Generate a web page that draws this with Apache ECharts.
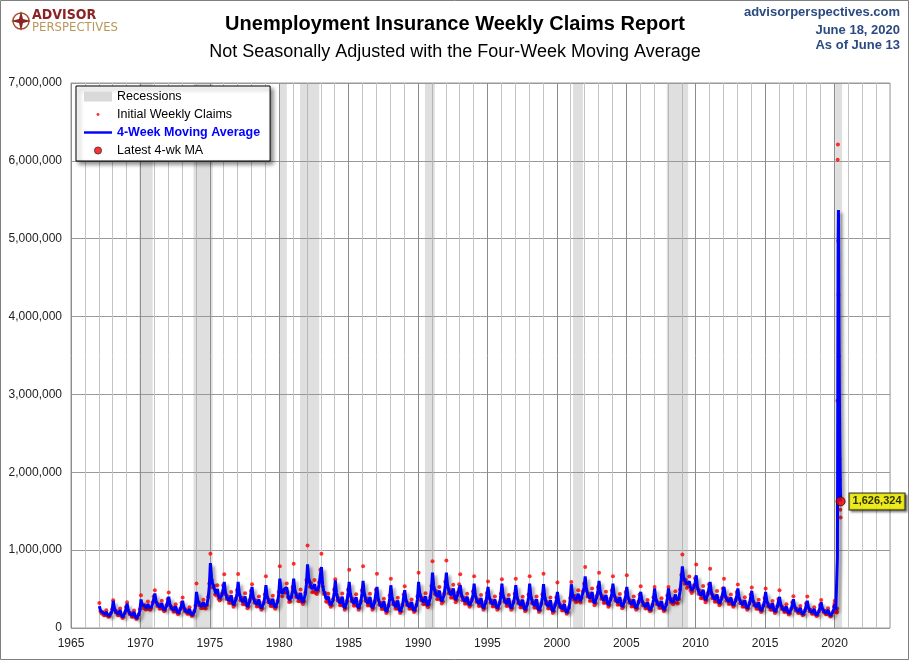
<!DOCTYPE html>
<html>
<head>
<meta charset="utf-8">
<script src="https://cdn.jsdelivr.net/npm/echarts/dist/echarts.min.js"></script>
<style>
  html, body { margin: 0; padding: 0; background: #fff; }
  #chart { width: 910px; height: 661px; }
</style>
</head>
<body>
<div id="chart"></div>
<script>
// 初请失业金（未季调），千人；1967-2019 按月读数，2020 按周读数
var firstYear = 1967;

// 4周移动平均，每行一年，1月..12月
var maMonthly = [
  [280,224,199,196,178,176,208,174,155,160,183,218],
  [349,255,213,209,178,176,228,171,140,148,186,245],
  [315,230,192,188,159,157,205,154,125,133,167,220],
  [366,300,275,285,260,255,310,265,250,265,310,370],
  [443,347,305,300,268,266,319,262,230,239,277,340],
  [400,306,264,259,228,226,278,222,190,198,236,295],
  [349,266,229,226,198,196,242,193,165,172,205,260],
  [464,360,315,310,275,272,330,280,270,300,380,520],
  [834,650,560,530,470,440,500,410,380,385,420,500],
  [592,458,399,393,348,345,420,340,295,307,360,444],
  [592,448,384,378,330,326,406,320,272,285,342,432],
  [528,403,348,342,301,298,367,293,251,262,312,390],
  [549,415,355,349,305,302,376,296,265,280,330,420],
  [634,500,440,470,500,480,520,430,360,350,390,480],
  [634,490,427,420,372,369,449,363,330,350,430,560],
  [817,640,570,560,500,490,560,490,470,490,560,680],
  [783,560,470,440,370,350,400,330,294,300,350,450],
  [613,450,378,370,316,313,403,305,251,265,331,450],
  [592,439,370,364,312,309,394,302,251,265,326,440],
  [604,445,375,368,315,311,399,304,251,265,329,445],
  [528,384,321,314,266,263,343,257,209,222,279,380],
  [549,396,328,321,270,267,352,260,209,223,284,390],
  [485,366,313,308,269,266,332,261,221,232,280,370],
  [592,448,384,378,330,326,406,320,285,310,380,490],
  [711,540,470,460,400,395,480,390,340,350,420,540],
  [711,552,481,474,421,417,506,410,357,371,435,510],
  [549,434,383,378,340,337,401,332,294,304,350,430],
  [570,426,363,356,308,305,385,299,251,264,321,410],
  [528,403,348,342,301,298,367,293,251,262,312,400],
  [570,426,363,356,308,305,385,299,251,264,321,400],
  [549,405,342,335,287,284,364,278,230,243,300,390],
  [570,413,343,336,284,280,368,273,221,235,298,395],
  [562,403,333,325,273,269,357,262,209,223,287,360],
  [464,343,290,284,244,242,309,236,196,207,255,350],
  [562,440,390,400,360,360,440,380,350,400,450,520],
  [664,507,437,430,378,374,462,367,315,329,392,480],
  [604,465,403,396,350,347,424,341,294,306,362,440],
  [570,436,376,370,326,323,397,317,272,284,338,420],
  [528,403,348,342,301,298,367,293,251,262,320,390],
  [464,359,312,307,272,270,328,265,230,239,281,360],
  [507,382,327,321,280,277,346,272,230,241,291,380],
  [507,400,350,360,330,340,430,360,340,380,470,620],
  [792,650,610,600,560,560,600,520,485,490,520,580],
  [677,533,469,463,415,411,491,405,357,370,427,510],
  [592,467,412,406,365,362,431,357,315,326,376,460],
  [528,423,376,371,336,334,392,329,294,303,345,420],
  [507,392,341,335,297,295,359,289,251,261,307,390],
  [477,362,311,305,267,265,329,259,221,231,277,350],
  [464,349,298,293,255,252,316,247,209,219,265,340],
  [400,304,262,257,225,223,276,219,187,196,234,300],
  [370,282,243,239,210,208,257,204,175,183,218,290],
  [350,267,230,226,198,196,243,193,165,172,206,270],
  [330,254,220,216,191,189,231,186,160,167,197,250]
];

// 初请人数（红点），每行一年，1月..12月
var claimsMonthly = [
  [320,213,185,202,164,167,229,160,144,155,192,240],
  [357,242,198,215,164,167,251,157,130,144,195,270],
  [330,219,179,194,146,149,226,142,116,129,175,242],
  [421,285,256,294,239,242,341,244,233,257,326,407],
  [485,330,284,309,247,253,351,241,214,232,291,374],
  [455,291,246,267,210,215,306,204,177,192,248,325],
  [392,253,213,233,182,186,266,178,153,167,215,286],
  [570,342,293,319,253,258,363,258,251,291,399,572],
  [953,618,521,546,432,418,550,377,353,373,441,550],
  [690,435,371,405,320,328,462,313,274,298,378,488],
  [695,426,357,389,304,310,447,294,253,276,359,475],
  [562,383,324,352,277,283,404,270,233,254,328,429],
  [664,394,330,359,281,287,414,272,246,272,347,462],
  [792,475,409,484,460,456,572,396,335,340,410,528],
  [826,466,397,433,342,351,494,334,307,340,452,616],
  [1060,608,530,577,460,466,616,451,437,475,588,748],
  [953,532,437,453,340,333,440,304,273,291,368,495],
  [625,428,352,381,291,297,443,281,233,257,348,495],
  [749,417,344,375,287,294,433,278,233,257,342,484],
  [792,423,349,379,290,295,439,280,233,257,345,490],
  [698,365,299,323,245,250,377,236,194,215,293,418],
  [634,376,305,331,248,254,387,239,194,216,298,429],
  [536,348,291,317,247,253,365,240,206,225,294,407],
  [711,426,357,389,304,310,447,294,265,301,399,539],
  [856,513,437,474,368,375,528,359,316,340,441,594],
  [868,524,447,488,387,396,557,377,332,360,457,561],
  [690,412,356,389,313,320,441,305,273,295,368,473],
  [664,405,338,367,283,290,424,275,233,256,337,451],
  [596,383,324,352,277,283,404,270,233,254,328,440],
  [626,405,338,367,283,290,424,275,233,256,337,440],
  [634,385,318,345,264,270,400,256,214,236,315,429],
  [664,392,319,346,261,266,405,251,206,228,313,435],
  [698,383,310,335,251,256,393,241,194,216,301,396],
  [583,326,270,293,224,230,340,217,182,201,268,385],
  [592,418,363,412,331,342,484,350,326,388,473,572],
  [783,482,406,443,348,355,508,338,293,319,412,528],
  [711,442,375,408,322,330,466,314,273,297,380,484],
  [664,414,350,381,300,307,437,292,253,275,355,462],
  [677,383,324,352,277,283,404,270,233,254,336,429],
  [536,341,290,316,250,257,361,244,214,232,295,396],
  [528,363,304,331,258,263,381,250,214,234,306,418],
  [528,380,326,371,304,323,473,331,316,369,494,682],
  [945,618,567,618,515,532,660,478,451,475,546,638],
  [817,506,436,477,382,390,540,373,332,359,448,561],
  [762,444,383,418,336,344,474,328,293,316,395,506],
  [634,402,350,382,309,317,431,303,273,294,362,462],
  [558,372,317,345,273,280,395,266,233,253,322,429],
  [519,344,289,314,246,252,362,238,206,224,291,385],
  [507,332,277,302,235,239,348,227,194,212,278,374],
  [485,289,244,265,207,212,304,201,174,190,246,330],
  [408,268,226,246,193,198,283,188,163,178,229,319],
  [405,254,214,233,182,186,267,178,153,167,216,297],
  [360,241,205,222,176,180,254,171,149,162,207,275]
];

// 2020 按周，首周截至 1月4日
var firstWeek2020 = '2020-01-04';
var claims2020 = [311,349,263,236,214,211,208,210,219,200,251,2920,6015,6211,4971,4281,3489,2850,2622,2175,1906,1706,1520,1420];
var ma2020 = [275,305,300,290,265,231,217,211,212,210,218,897,2346,3849,5029,5370,4738,3898,3310,2784,2388,2102,1827,1626.324];

// 衰退区间（小数年）
var recessions = [
  [1969.92, 1970.88], [1973.83, 1975.21], [1980.0, 1980.55], [1981.5, 1982.88],
  [1990.5, 1991.21], [2001.17, 2001.88], [2007.92, 2009.46], [2020.05, 2020.55]
];

var chart = echarts.init(document.getElementById('chart'));

var claimsPts = [], maPts = [];
claimsMonthly.forEach(function (row, i) {
  row.forEach(function (v, m) {
    claimsPts.push([firstYear + i + (m + 0.5) / 12, v * 1000]);
  });
});
maMonthly.forEach(function (row, i) {
  row.forEach(function (v, m) {
    maPts.push([firstYear + i + (m + 0.5) / 12, v * 1000]);
  });
});
var t0 = Date.parse(firstWeek2020 + 'T00:00:00Z');
var jan1 = Date.UTC(2020, 0, 1);
function weekX(k) {
  var doy = (t0 + k * 7 * 864e5 - jan1) / 864e5;
  return 2020 + (doy - 3) / 366;
}
claims2020.forEach(function (v, k) { claimsPts.push([weekX(k), v * 1000]); });
ma2020.forEach(function (v, k) { maPts.push([weekX(k), v * 1000]); });
var lastPt = maPts[maPts.length - 1];

function fmt(v) { return Math.round(v).toLocaleString('en-US'); }

function svgIcon(inner) {
  return 'image://data:image/svg+xml;charset=utf-8,' + encodeURIComponent(
    '<svg xmlns="http://www.w3.org/2000/svg" width="30" height="10" viewBox="0 0 30 10">' + inner + '</svg>');
}
var dotIcon = svgIcon('<circle cx="15" cy="5" r="1.6" fill="#ff0000"/>');
var bigDotIcon = svgIcon('<circle cx="15" cy="5" r="3.8" fill="#ff0000" stroke="#300" stroke-width="1"/>');
var lineIcon = svgIcon('<rect x="0" y="3.7" width="30" height="2.6" fill="#0000ff"/>');

var font = 'Liberation Sans, Arial, sans-serif';

var option = {
  animation: false,
  backgroundColor: '#ffffff',
  textStyle: { fontFamily: font },
  graphic: [
    { type: 'rect', shape: { x: 0.5, y: 0.5, width: 908, height: 659 },
      style: { fill: 'none', stroke: '#7f7f7f', lineWidth: 1 }, z: 100 },
    // logo
    { type: 'circle', shape: { cx: 21, cy: 21, r: 8 }, style: { fill: 'none', stroke: '#a0522d', lineWidth: 1.5 } },
    { type: 'polygon', shape: { points: [[21, 11], [23, 19], [31, 21], [23, 23], [21, 31], [19, 23], [11, 21], [19, 19]] },
      style: { fill: '#8b2323' } },
    { type: 'text', x: 32, y: 8, style: { text: 'ADVISOR', font: 'bold 14px "DejaVu Sans Condensed", sans-serif', fill: '#8b2323' } },
    { type: 'text', x: 32, y: 21, style: { text: 'PERSPECTIVES', font: '13px "DejaVu Sans Condensed", sans-serif', fill: '#b8975a' } },
    // 右上角
    { type: 'text', x: 900, y: 6, style: { text: 'advisorperspectives.com', textAlign: 'right', font: 'bold 13px ' + font, fill: '#2b4a80' } },
    { type: 'text', x: 900, y: 24, style: { text: 'June 18, 2020', textAlign: 'right', font: 'bold 13px ' + font, fill: '#2b4a80' } },
    { type: 'text', x: 900, y: 39, style: { text: 'As of June 13', textAlign: 'right', font: 'bold 13px ' + font, fill: '#2b4a80' } },
    // 标题
    { type: 'text', x: 455, y: 14, style: { text: 'Unemployment Insurance Weekly Claims Report', textAlign: 'center', font: 'bold 20px ' + font, fill: '#000' } },
    { type: 'text', x: 455, y: 43, style: { text: 'Not Seasonally Adjusted with the Four-Week Moving Average', textAlign: 'center', font: '18px ' + font, fill: '#000' } }
  ],
  legend: {
    left: 76, top: 86, orient: 'vertical',
    itemGap: 5, itemWidth: 28, itemHeight: 10,
    padding: [4, 10, 4, 8],
    backgroundColor: '#fff', borderColor: '#000', borderWidth: 1,
    shadowColor: 'rgba(0,0,0,0.45)', shadowBlur: 4, shadowOffsetX: 3, shadowOffsetY: 3,
    textStyle: { fontSize: 12.5, color: '#000' },
    data: [
      { name: 'Recessions', icon: 'rect', itemStyle: { color: '#d9d9d9' } },
      { name: 'Initial Weekly Claims', icon: dotIcon },
      { name: '4-Week Moving Average', icon: lineIcon, textStyle: { color: '#0000ff', fontWeight: 'bold' } },
      { name: 'Latest 4-wk MA', icon: bigDotIcon }
    ]
  },
  grid: { left: 71, right: 20, top: 83, bottom: 33, show: true, borderColor: '#9a9a9a', borderWidth: 1, backgroundColor: '#fff' },
  xAxis: {
    type: 'value', min: 1965, max: 2024, interval: 1,
    axisLine: { show: false }, axisTick: { show: false },
    axisLabel: {
      margin: 10, fontSize: 12, color: '#222',
      formatter: function (v) { return v % 5 === 0 && v < 2024 ? String(v) : ''; }
    },
    splitLine: { show: true, lineStyle: { color: ['#8c8c8c', '#c4c4c4', '#c4c4c4', '#c4c4c4', '#c4c4c4'], width: 1 } }
  },
  yAxis: {
    type: 'value', min: 0, max: 7000000, interval: 1000000,
    axisLine: { show: false }, axisTick: { show: false },
    axisLabel: { margin: 9, fontSize: 12, color: '#222', formatter: fmt },
    splitLine: { lineStyle: { color: '#9a9a9a', width: 1 } }
  },
  series: [
    {
      name: 'Recessions', type: 'line', data: [], itemStyle: { color: '#d9d9d9' },
      markArea: {
        silent: true,
        itemStyle: { color: 'rgba(150,150,150,0.3)' },
        data: recessions.map(function (r) { return [{ xAxis: r[0] }, { xAxis: r[1] }]; })
      }
    },
    {
      name: 'Initial Weekly Claims', type: 'scatter', symbolSize: 4, z: 2,
      itemStyle: { color: '#ff0000' },
      data: claimsPts
    },
    {
      name: '4-Week Moving Average', type: 'line', symbol: 'none', z: 3,
      itemStyle: { color: '#0000ff' },
      lineStyle: { color: '#0000ff', width: 3, shadowColor: 'rgba(0,0,0,0.35)', shadowBlur: 3, shadowOffsetX: 3, shadowOffsetY: 3 },
      data: maPts
    },
    {
      name: 'Latest 4-wk MA', type: 'scatter', symbolSize: 9, z: 5,
      itemStyle: { color: '#ff0000', borderColor: '#300', borderWidth: 1 },
      label: {
        show: true, position: 'right', distance: 4,
        formatter: function (p) { return fmt(p.value[1]); },
        backgroundColor: '#ffff00', borderColor: '#000', borderWidth: 1,
        padding: [3, 3, 2, 3], fontSize: 11, fontWeight: 'bold', color: '#000',
        shadowColor: 'rgba(0,0,0,0.5)', shadowBlur: 2, shadowOffsetX: 2, shadowOffsetY: 2
      },
      data: [lastPt]
    }
  ]
};

chart.setOption(option);
</script>
</body>
</html>
